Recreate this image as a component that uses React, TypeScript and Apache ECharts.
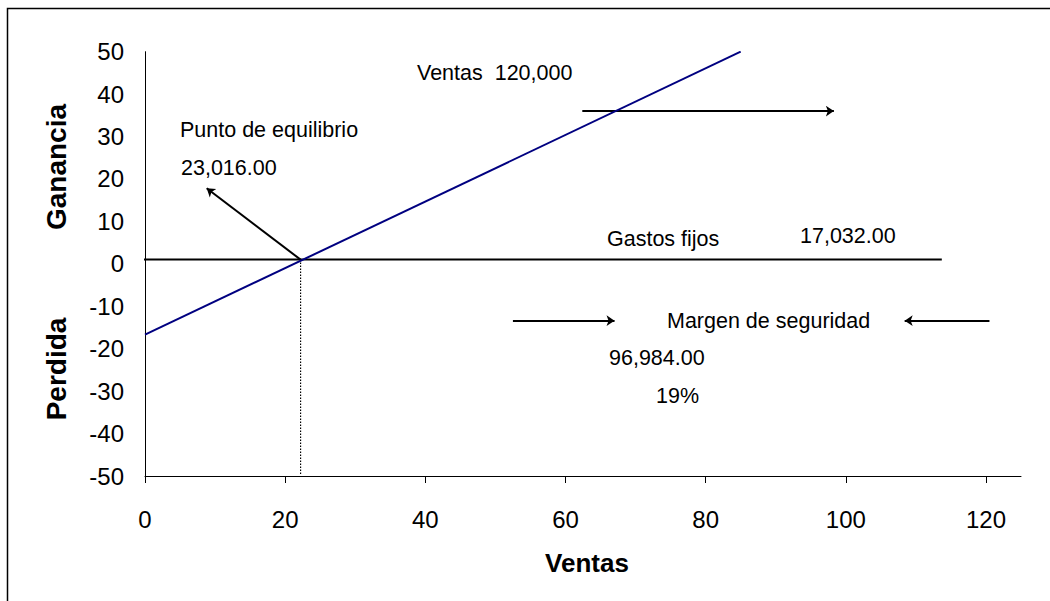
import React, { useEffect, useRef } from "react";
import * as echarts from "echarts";

const xTickValues = [0, 20, 40, 60, 80, 100, 120];
const salesLine = [[0, -16.7], [85, 50]];
const fixedCostLine = [[-0.45, 1], [113.7, 1]];
const breakEvenDrop = [[22.2, 1], [22.2, -49.5]];
const arrowFrom = [[22.2, 1], [62.4, 36], [52.5, -13.4], [120.5, -13.4]];
const arrowTo = [[8.8, 17.8], [98.3, 36], [67.0, -13.4], [108.4, -13.4]];

const FONT = "'Liberation Sans', Arial, Helvetica, sans-serif";

export default function App() {
  const ref = useRef<HTMLDivElement>(null);
  useEffect(() => {
    if (!ref.current) return;
    const chart = echarts.init(ref.current, null, { renderer: "svg" });
    const txt = (text: string, x: number, y: number, size = 21.5, bold = false, rot = 0, align = "left") => ({
      type: "text",
      x,
      y,
      rotation: rot,
      style: {
        text,
        fill: "#000",
        font: `${bold ? "bold " : ""}${size}px ${FONT}`,
        align,
        verticalAlign: "middle",
      },
    });
    chart.setOption({
      animation: false,
      backgroundColor: "#fff",
      grid: { left: 145, top: 51.7, right: 29, bottom: 125, containLabel: false },
      xAxis: {
        type: "value",
        min: 0,
        max: 125,
        interval: 20,
        axisLine: { show: true, onZero: false, lineStyle: { color: "#000", width: 1 } },
        axisTick: { show: true, length: 7, customValues: xTickValues, lineStyle: { color: "#000" } },
        axisLabel: { customValues: xTickValues, color: "#000", fontSize: 24, fontFamily: FONT, margin: 31 },
        splitLine: { show: false },
      },
      yAxis: {
        type: "value",
        min: -50,
        max: 50,
        interval: 10,
        axisLine: { show: true, onZero: false, lineStyle: { color: "#000", width: 1 } },
        axisTick: { show: false },
        axisLabel: { color: "#000", fontSize: 24, fontFamily: FONT, margin: 21 },
        splitLine: { show: false },
      },
      series: [
        {
          type: "line",
          data: fixedCostLine,
          symbol: "none",
          clip: false,
          lineStyle: { color: "#000", width: 2 },
        },
        {
          type: "line",
          data: breakEvenDrop,
          symbol: "none",
          lineStyle: { color: "#000", width: 1.2, type: [1.5, 1.5] },
        },
        {
          type: "line",
          data: salesLine,
          symbol: "none",
          lineStyle: { color: "#000080", width: 2 },
        },
        {
          type: "lines",
          coordinateSystem: "cartesian2d",
          symbol: ["none", "arrow"],
          symbolSize: 8,
          lineStyle: { color: "#000", width: 2, opacity: 1 },
          data: arrowFrom.map((f, i) => ({ coords: [f, arrowTo[i]] })),
        },
      ],
      graphic: [
        {
          type: "rect",
          shape: { x: 7.5, y: 8.5, width: 1100, height: 700 },
          style: { fill: "none", stroke: "#000", lineWidth: 1.5 },
          silent: true,
          z: -1,
        },
        txt("Ganancia", 56, 167, 28, true, Math.PI / 2, "center"),
        txt("Perdida", 56, 369, 28, true, Math.PI / 2, "center"),
        txt("Ventas", 587, 563, 26, true, 0, "center"),
        txt("Ventas  120,000", 417, 73),
        txt("Punto de equilibrio", 180, 130),
        txt("23,016.00", 181, 168),
        txt("Gastos fijos", 607, 239),
        txt("17,032.00", 800, 236),
        txt("Margen de seguridad", 667, 321),
        txt("96,984.00", 609, 358),
        txt("19%", 656, 396),
      ],
    });
    return () => chart.dispose();
  }, []);
  return (
    <div
      ref={ref}
      style={{ position: "fixed", left: 0, top: 0, width: 1050, height: 601 }}
    />
  );
}
